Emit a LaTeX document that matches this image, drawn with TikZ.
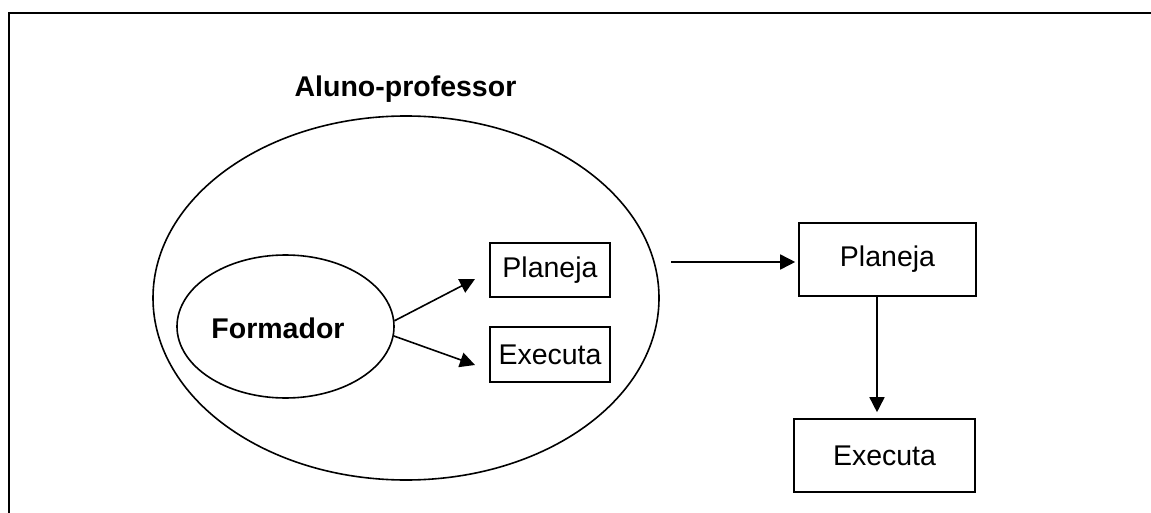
\documentclass[tikz,border=0pt]{standalone}
\usepackage{fontspec}
\setmainfont{Liberation Sans}
\usetikzlibrary{arrows.meta,shapes.geometric}
\begin{document}
\begin{tikzpicture}[x=1pt,y=-1pt,
  line width=1.6pt,
  every node/.style={font=\fontsize{28.5}{34}\selectfont},
  boxnode/.style={draw,rectangle,inner sep=0pt,line width=1.6pt},
  ellnode/.style={draw,ellipse,inner sep=0pt,line width=1.6pt},
  arr/.style={-{Triangle[length=15pt,width=15pt]},line width=1.6pt}]
\useasboundingbox (0,0) rectangle (1151,513);
% frame
\draw[line width=2pt] (8.5,513) -- (8.5,13.5) -- (1151,13.5);
% outer ellipse
\node[ellnode,minimum width=506pt,minimum height=364pt] (aluno) at (406,298) {};
\node[anchor=base,font=\fontsize{28.5}{34}\selectfont\bfseries] (alunolbl) at (405.5,97) {Aluno-professor};
% inner ellipse
\node[ellnode,minimum width=217pt,minimum height=143pt] (formador) at (285.5,326.5) {};
\node[font=\fontsize{28.5}{34}\selectfont\bfseries] (formlbl) at (278,328) {Formador};
% small boxes
\node[boxnode,minimum width=120pt,minimum height=54pt] (splan) at (550,270) {Planeja};
\node[boxnode,minimum width=120pt,minimum height=55pt] (sexec) at (550,354.5) {Executa};
% big boxes
\node[boxnode,minimum width=177pt,minimum height=73pt] (bplan) at (887.5,259.5) {Planeja};
\node[boxnode,minimum width=181pt,minimum height=73pt] (bexec) at (884.5,455.5) {Executa};
% arrows from Formador
\coordinate (t1) at (475,279);
\coordinate (t2) at (475,365);
\draw[arr] (formador.3) -- (t1);
\draw[arr] (formador.-5) -- (t2);
% horizontal arrow
\coordinate (hs) at (671,262);
\draw[arr,shorten >=3pt] (hs) -- (hs -| bplan.west);
% vertical arrow
\coordinate (vs) at (877,296);
\draw[arr,shorten >=6pt] (vs |- bplan.south) -- (vs |- bexec.north);
\end{tikzpicture}
\end{document}
